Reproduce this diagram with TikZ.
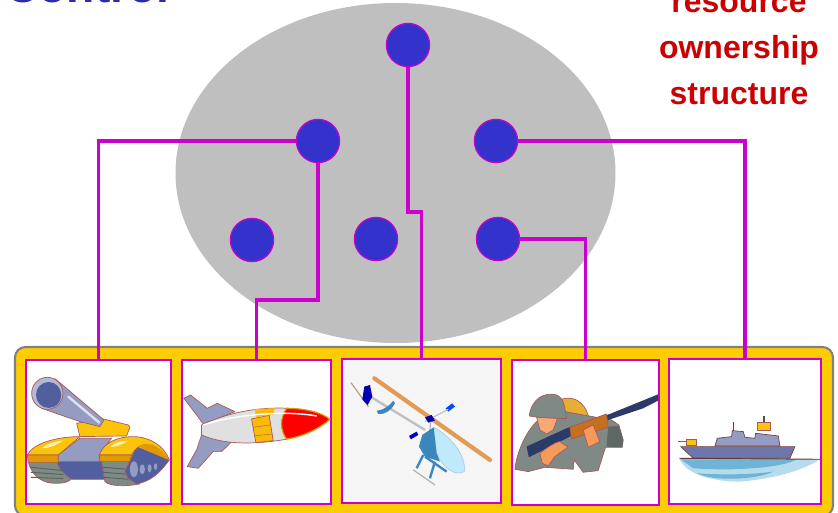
\documentclass[tikz,border=0pt]{standalone}
\usepackage{fontspec}
\setmainfont{Liberation Sans}
\definecolor{linkPurple}{HTML}{CC00CC}
\definecolor{nodeBlue}{HTML}{3333CC}
\definecolor{panelGold}{HTML}{FFCC00}
\definecolor{edgeRed}{HTML}{A85A5A}
\definecolor{steel}{HTML}{949CC2}
\definecolor{steelDark}{HTML}{525F9E}
\definecolor{amber}{HTML}{FBC40A}
\definecolor{amberDark}{HTML}{E09A00}
\definecolor{khaki}{HTML}{7F8A86}
\definecolor{skin}{HTML}{F59A5A}
\definecolor{navy}{HTML}{2B3A68}
\definecolor{wood}{HTML}{C4701E}
\definecolor{seaBlue}{HTML}{6FB3D6}
\definecolor{seaPale}{HTML}{B5DCEC}
\definecolor{rotor}{HTML}{E39A55}
\definecolor{heliBlue}{HTML}{3C86BC}
\begin{document}
\begin{tikzpicture}[
        x=0.03cm, y=-0.03cm,
        owner/.style={circle, fill=nodeBlue, draw=linkPurple, line width=1pt, inner sep=0pt, minimum size=1.3cm},
        link/.style={draw=linkPurple, line width=3.4pt},
        panel/.style={fill=panelGold, draw=gray, line width=1.8pt, rounded corners=9pt},
        unit/.style={fill=white, draw=linkPurple, line width=2pt, inner sep=0pt},
        headBlue/.style={text=nodeBlue!85!black, font=\fontsize{39.5}{40}\selectfont\bfseries, anchor=base west},
        headRed/.style={text=red!80!black, font=\fontsize{27.3}{27.3}\selectfont\bfseries, anchor=base},
        art/.style={draw=edgeRed, line width=0.6pt, line join=round}
    ]
    \useasboundingbox (0,0) rectangle (838,513);

    % --- 1. title and side label ---
    \node[headBlue] (title) at (1,3) {Control};
    \node[headRed] (labelA) at (739,13) {resource};
    \node[headRed] (labelB) at (739,59) {ownership};
    \node[headRed] (labelC) at (739,105) {structure};

    % --- 2. ellipse and panel (background) ---
    \fill[black!25] (395.5,173) ellipse [x radius=220, y radius=170];
    \draw[panel] (15,347) rectangle (833,516);

    % --- 3. owners ---
    \node[owner] (ownerTop) at (408,45) {};
    \node[owner] (ownerLeft) at (318,141) {};
    \node[owner] (ownerRight) at (496,141) {};
    \node[owner] (ownerA) at (252,240) {};
    \node[owner] (ownerB) at (376,239) {};
    \node[owner] (ownerC) at (498,239) {};

    % --- 4. unit boxes ---
    \node[unit, minimum width=4.35cm, minimum height=4.32cm] (boxTank) at (98.5,432) {};
    \node[unit, minimum width=4.47cm, minimum height=4.32cm] (boxMissile) at (256.5,432) {};
    \node[unit, fill=black!4, minimum width=4.77cm, minimum height=4.32cm] (boxHeli) at (421.5,431) {};
    \node[unit, minimum width=4.41cm, minimum height=4.35cm] (boxSoldier) at (585.5,432.5) {};
    \node[unit, minimum width=4.56cm, minimum height=4.35cm] (boxShip) at (745,431.5) {};

    % --- 5. ownership links ---
    \coordinate (bendMissile) at (318,300);
    \coordinate (bendHeli) at (408,212);
    \draw[link] (ownerLeft) -| (boxTank.north);
    \draw[link] (ownerLeft) -- (bendMissile) -| (boxMissile.north);
    \draw[link] (ownerTop) -- (bendHeli) -| (boxHeli.north);
    \draw[link] (ownerC) -| (boxSoldier.north);
    \draw[link] (ownerRight) -| (boxShip.north);

    % --- 6. tank ---
    \begin{scope}[shift={(0,340)}, x=0.01cm, y=-0.01cm]
        \filldraw[art, fill=khaki] (85,365) .. controls (95,410) and (130,432) .. (170,430) .. controls (195,430) and (210,425) .. (215,415) -- (170,365) -- cycle;
        \filldraw[art, fill=steelDark] (170,362) -- (310,362) -- (312,418) -- (215,418) .. controls (190,400) and (175,385) .. (170,362) -- cycle;
        \filldraw[art, fill=khaki] (305,365) -- (385,365) -- (420,432) .. controls (380,440) and (330,440) .. (315,425) -- cycle;
        \foreach \k in {0,1,2} {
            \draw[black!30!khaki, line width=0.8pt] (92,{382+\k*15}) -- (190,{392+\k*12});
            \draw[black!30!khaki, line width=0.8pt] (308,{382+\k*15}) -- (385,{388+\k*15});
        }
        \filldraw[art, fill=steelDark] (410,320) -- (508,360) .. controls (480,400) and (450,425) .. (410,432) -- (385,415) -- (375,395) -- cycle;
        \fill[steel] (402,388) ellipse [x radius=12, y radius=24];
        \fill[steel] (427,388) ellipse [x radius=8, y radius=15];
        \fill[steel] (449,385) ellipse [x radius=6, y radius=12];
        \fill[steel] (467,380) ellipse [x radius=5, y radius=10];
        \filldraw[art, fill=steel] (175,345) -- (240,295) -- (335,295) -- (298,345) -- (298,365) -- (170,365) -- cycle;
        \filldraw[art, fill=amber] (82,345) .. controls (100,310) and (170,290) .. (240,290) -- (175,345) -- cycle;
        \filldraw[art, fill=amberDark] (82,345) -- (175,345) -- (175,368) -- (85,368) -- cycle;
        \filldraw[art, fill=amber] (298,345) .. controls (310,310) and (350,290) .. (400,290) .. controls (450,290) and (495,320) .. (508,360) -- (465,340) .. controls (440,305) and (415,310) .. (395,345) -- cycle;
        \filldraw[art, fill=amberDark] (298,345) -- (395,345) -- (390,365) -- (300,365) -- cycle;
        \fill[amberDark] (415,320) .. controls (440,300) and (480,315) .. (508,360) -- (460,340) -- cycle;
        \fill[white!70!amber] (125,325) .. controls (145,310) and (170,303) .. (190,302) .. controls (170,315) and (150,325) .. (125,325) -- cycle;
        \fill[white!70!amber] (330,322) .. controls (340,310) and (360,303) .. (385,302) .. controls (365,315) and (350,320) .. (330,322) -- cycle;
        \filldraw[art, fill=amber] (230,250) -- (310,237) -- (385,255) -- (390,262) -- (380,288) -- (240,290) -- cycle;
        \filldraw[art, fill=steel] (165,116) -- (312,240) -- (300,260) -- (240,245) -- (125,205) -- cycle;
        \draw[white!70!steel, line width=2pt, line cap=round] (205,170) -- (298,248);
        \filldraw[art, fill=steel!70] (142,160) ellipse [x radius=47, y radius=48];
        \fill[steelDark] (146,165) ellipse [x radius=38, y radius=39];
    \end{scope}

    % --- 7. missile ---
    \begin{scope}[shift={(0,340)}, x=0.01cm, y=-0.01cm]
        \filldraw[art, fill=steel] (552,175) -- (572,165) -- (622,205) -- (652,190) -- (705,215) -- (610,252) -- (590,225) -- cycle;
        \filldraw[art, fill=steel] (605,285) -- (730,272) -- (665,335) -- (640,335) -- (595,385) -- (562,380) -- (590,330) -- cycle;
        \filldraw[art, fill=black!12] (605,255) .. controls (680,220) and (770,200) .. (865,205) -- (865,297) .. controls (780,312) and (680,318) .. (605,285) -- cycle;
        \filldraw[art, fill=amber!85!orange] (755,237) -- (808,226) -- (820,302) -- (768,308) -- cycle;
        \fill[amber!85!orange] (765,207) -- (825,205) -- (820,224) -- (768,232) -- cycle;
        \draw[edgeRed, thin] (759,262) -- (812,255);
        \draw[edgeRed, thin] (764,288) -- (816,282);
        \filldraw[draw=amberDark, line width=1pt, fill=red] (860,205) .. controls (920,205) and (970,220) .. (990,238) .. controls (960,265) and (910,290) .. (860,297) .. controls (840,270) and (840,235) .. (860,205) -- cycle;
        \draw[white, line width=1.2pt, line cap=round] (610,255) .. controls (700,225) and (850,210) .. (950,228);
    \end{scope}

    % --- 8. helicopter ---
    \begin{scope}[shift={(335,340)}, x=0.01cm, y=-0.01cm]
        \draw[line width=2pt, black!25] (90,160) -- (270,270);
        \draw[line width=1pt, rotor!60!black!60] (48,128) -- (100,200);
        \draw[line width=3.6pt, rotor, line cap=round] (118,115) -- (465,360);
        \fill[blue!70!black] (88,140) -- (105,135) -- (112,170) -- (98,195) -- (82,178) -- cycle;
        \fill[heliBlue] (125,212) .. controls (150,210) and (165,195) .. (175,182) -- (180,190) .. controls (170,210) and (150,225) .. (130,222) -- cycle;
        \fill[blue!70!cyan] (332,205) -- (352,190) -- (360,200) -- (340,215) -- cycle;
        \draw[black!25, line width=1pt] (340,208) -- (270,245);
        \fill[blue!80!black] (222,288) -- (245,275) -- (250,285) -- (228,298) -- cycle;
        \fill[blue!70!black] (270,232) -- (290,225) -- (300,242) -- (280,248) -- cycle;
        \draw[black!30, line width=1pt] (287,245) -- (285,270);
        \filldraw[draw=heliBlue!50, fill=cyan!25] (296,262) .. controls (350,290) and (395,350) .. (388,395) .. controls (360,410) and (325,385) .. (305,340) -- cycle;
        \fill[heliBlue] (262,285) -- (296,262) -- (305,340) -- (315,365) -- (270,350) -- (252,320) -- cycle;
        \draw[black!30, line width=1pt] (235,390) -- (300,435);
        \draw[heliBlue, line width=2pt] (265,345) -- (245,385);
        \draw[heliBlue, line width=2pt] (300,365) -- (285,415);
        \draw[heliBlue, line width=2pt] (270,350) -- (335,395);
    \end{scope}

    % --- 9. soldier ---
    \begin{scope}[shift={(335,340)}, x=0.01cm, y=-0.01cm]
        \filldraw[art, fill=amberDark!80] (675,180) .. controls (710,165) and (750,180) .. (762,235) -- (690,235) -- cycle;
        \filldraw[art, fill=khaki] (540,388) .. controls (545,340) and (570,280) .. (605,245) -- (690,215) -- (762,228) -- (830,240) -- (852,255) -- (865,300) -- (862,322) -- (812,322) -- (790,392) -- (745,397) -- (718,360) -- (715,388) -- (630,382) -- (580,395) -- cycle;
        \fill[black!25!khaki] (820,260) -- (852,258) -- (865,300) -- (862,322) -- (815,320) -- cycle;
        \filldraw[art, fill=skin!85] (605,232) -- (668,235) -- (655,270) -- (635,282) -- (615,270) -- cycle;
        \filldraw[art, fill=khaki] (583,228) .. controls (590,175) and (630,155) .. (665,165) .. controls (690,175) and (690,210) .. (695,236) -- (610,232) -- cycle;
        \fill[navy] (575,320) -- (695,265) -- (825,222) -- (970,163) -- (970,182) -- (925,205) -- (820,240) -- (705,290) -- (582,352) -- cycle;
        \filldraw[art, fill=wood] (705,262) -- (815,222) -- (820,262) -- (710,297) -- cycle;
        \filldraw[art, fill=skin] (615,340) .. controls (640,320) and (665,305) .. (675,305) -- (700,322) -- (680,335) -- (660,350) -- (640,378) -- (622,370) -- cycle;
        \filldraw[art, fill=skin] (745,270) -- (775,255) -- (795,305) -- (760,322) -- cycle;
    \end{scope}

    % --- 10. ship ---
    \begin{scope}[shift={(640,340)}, x=0.01cm, y=-0.01cm]
        \fill[seaPale] (118,356) -- (540,358) .. controls (500,385) and (420,415) .. (300,425) .. controls (220,425) and (140,405) .. (118,356) -- cycle;
        \fill[seaBlue] (122,358) -- (470,358) .. controls (440,380) and (300,395) .. (160,385) -- cycle;
        \fill[seaBlue] (170,400) .. controls (240,405) and (330,405) .. (400,395) .. controls (350,420) and (220,425) .. (170,400) -- cycle;
        \filldraw[draw=edgeRed!70!black, fill=steel, line width=0.6pt] (225,318) -- (232,295) -- (275,290) -- (277,272) -- (310,275) -- (315,292) -- (345,295) -- (347,280) -- (415,288) -- (420,318) -- cycle;
        \filldraw[draw=edgeRed!70!black, fill=steelDark!60!steel, line width=0.6pt] (122,320) -- (465,320) -- (450,355) -- (160,355) -- cycle;
        \draw[black!70, line width=1.2pt] (280,246) -- (280,272);
        \draw[black!70, line width=1.2pt] (372,228) -- (372,250);
        \filldraw[draw=edgeRed, fill=amber] (352,248) rectangle (390,270);
        \filldraw[draw=edgeRed, fill=amber] (140,298) rectangle (170,316);
        \draw[black!60, line width=0.8pt] (115,306) -- (140,306);
        \draw[edgeRed!60!black, line width=0.8pt] (118,355) -- (540,358);
    \end{scope}
\end{tikzpicture}
\end{document}
